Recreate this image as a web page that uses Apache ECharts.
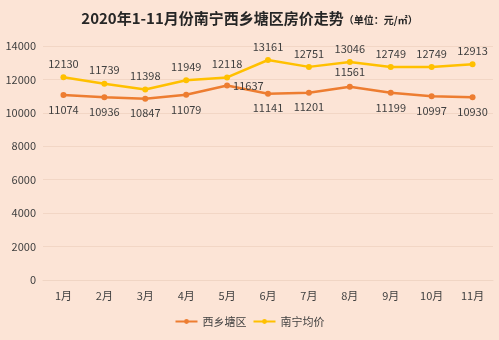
<!DOCTYPE html>
<html>
<head>
<meta charset="utf-8">
<script src="https://cdn.jsdelivr.net/npm/echarts@6/dist/echarts.min.js"></script>
<style>
  html, body { margin: 0; padding: 0; background: #FCE4D6; }
  #chart { width: 499px; height: 340px; }
</style>
</head>
<body>
<div id="chart"></div>
<script>
// Monthly average housing prices (元/㎡), Jan–Nov 2020
const months = ['1月', '2月', '3月', '4月', '5月', '6月', '7月', '8月', '9月', '10月', '11月'];
const xixiangtang = [11074, 10936, 10847, 11079, 11637, 11141, 11201, 11561, 11199, 10997, 10930];
const nanningAvg = [12130, 11739, 11398, 11949, 12118, 13161, 12751, 13046, 12749, 12749, 12913];
const yTicks = [0, 2000, 4000, 6000, 8000, 10000, 12000, 14000];

// Where each district label sits relative to its point
const districtLabelPos = ['bottom', 'bottom', 'bottom', 'bottom', 'right', 'bottom', 'bottom', 'top', 'bottom', 'bottom', 'bottom'];

const chart = echarts.init(document.getElementById('chart'));
const labelText = { color: '#404040', fontSize: 11, fontFamily: 'Noto Sans CJK SC' };

chart.setOption({
  backgroundColor: '#FCE4D6',
  textStyle: { fontFamily: 'Noto Sans CJK SC' },
  title: {
    text: '{main|2020年1-11月份南宁西乡塘区房价走势}{unit|（单位：元/㎡）}',
    left: 'center',
    top: 6,
    textStyle: {
      rich: {
        main: { fontSize: 15, fontWeight: 'bold', color: '#262626', fontFamily: 'Noto Sans CJK SC' },
        unit: { fontSize: 10, fontWeight: 'bold', color: '#262626', fontFamily: 'Noto Sans CJK SC', padding: [3, 0, 0, 0] }
      }
    }
  },
  grid: { left: 43, right: 6, top: 46, bottom: 60 },
  legend: {
    bottom: 8,
    left: 'center',
    itemWidth: 22,
    itemHeight: 6,
    itemGap: 6,
    textStyle: { color: '#404040', fontSize: 11 },
    data: ['西乡塘区', '南宁均价']
  },
  xAxis: {
    type: 'category',
    data: months,
    boundaryGap: true,
    axisLine: { show: true, lineStyle: { color: '#F0D5C4' } },
    axisTick: { show: false },
    axisLabel: { color: '#404040', fontSize: 11, margin: 10 }
  },
  yAxis: {
    type: 'value',
    min: yTicks[0],
    max: yTicks[yTicks.length - 1],
    interval: 2000,
    axisLine: { show: false },
    axisTick: { show: false },
    axisLabel: { color: '#404040', fontSize: 11, margin: 7, formatter: v => String(v) },
    splitLine: { lineStyle: { color: '#F2D6C5', width: 1 } }
  },
  series: [
    {
      name: '西乡塘区',
      type: 'line',
      data: xixiangtang.map((v, i) => ({
        value: v,
        label: { position: districtLabelPos[i], distance: districtLabelPos[i] === 'right' ? 3 : 6 }
      })),
      symbol: 'circle',
      symbolSize: 6,
      color: '#ED7D31',
      lineStyle: { width: 2.5, color: '#ED7D31' },
      itemStyle: { color: '#ED7D31' },
      label: { show: true, ...labelText },
      z: 3
    },
    {
      name: '南宁均价',
      type: 'line',
      data: nanningAvg,
      symbol: 'circle',
      symbolSize: 6,
      color: '#FFC000',
      lineStyle: { width: 2.5, color: '#FFC000' },
      itemStyle: { color: '#FFC000' },
      label: { show: true, position: 'top', distance: 5, ...labelText },
      z: 2
    }
  ]
});
</script>
</body>
</html>
